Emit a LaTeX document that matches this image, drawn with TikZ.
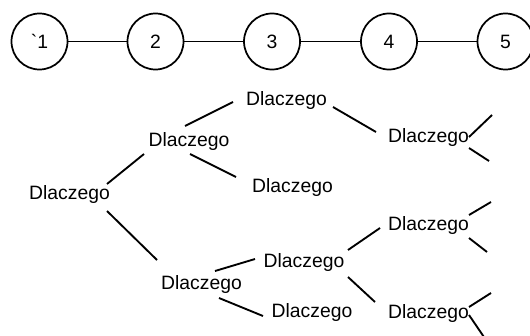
\documentclass[tikz,border=0pt]{standalone}
\usepackage{fontspec}
\setmainfont{Liberation Sans}
\usetikzlibrary{calc}

\begin{document}
\begin{tikzpicture}[x=0.75pt,y=-0.75pt,
    every node/.style={font=\fontsize{14.5}{17}\selectfont},
    krok/.style={draw,circle,line width=1.3pt,minimum size=42pt,inner sep=0pt},
    pyt/.style={inner sep=0pt},
    galaz/.style={line width=1.4pt}]

        \useasboundingbox (0,0) rectangle (530,335);

        % 绘制上方的圆圈
        \node[krok] (k1) at (39.5,41.5) {\textasciigrave 1};
        \foreach \i/\x in {2/155.5,3/272,4/389,5/505.5}
        {
          \node[krok] (k\i) at (\x,41.5) {\i};
        }
        \foreach \a/\b in {1/2,2/3,3/4,4/5}
        {
          \draw[line width=1.3pt] (k\a) -- (k\b);
        }

        % 绘制树的节点
        \node[pyt] (d0) at (69.5,194) {Dlaczego};
        \node[pyt] (d1) at (189,141) {Dlaczego};
        \node[pyt] (d2) at (201.5,284) {Dlaczego};
        \node[pyt] (d11) at (286.5,101) {Dlaczego};
        \node[pyt] (d12) at (292.5,187) {Dlaczego};
        \node[pyt] (d21) at (304,262) {Dlaczego};
        \node[pyt] (d22) at (312,312) {Dlaczego};
        \node[pyt] (d111) at (428.5,137) {Dlaczego};
        \node[pyt] (d211) at (428.5,225) {Dlaczego};
        \node[pyt] (d212) at (428.5,313) {Dlaczego};

        % 绘制树的分支
        \draw[galaz] ($(d0)+(37.5,-10)$) -- ($(d1)+(-45,13)$);
        \draw[galaz] ($(d0)+(37.5,17)$) -- ($(d2)+(-44.5,-24)$);
        \draw[galaz] ($(d1)+(-4,-15)$) -- ($(d11)+(-53.5,1)$);
        \draw[galaz] ($(d1)+(1,13)$) -- ($(d12)+(-56.5,-10)$);
        \draw[galaz] ($(d11)+(46.5,6)$) -- ($(d111)+(-52.5,-5)$);
        \draw[galaz] ($(d2)+(13.5,-13)$) -- ($(d21)+(-49,-3)$);
        \draw[galaz] ($(d2)+(17.5,14)$) -- ($(d22)+(-49,4)$);
        \draw[galaz] ($(d21)+(44,-12)$) -- ($(d211)+(-48.5,3)$);
        \draw[galaz] ($(d21)+(44,15)$) -- ($(d212)+(-53.5,-11)$);

        % 右侧未完成的分支
        \coordinate (w1) at (492,115);
        \coordinate (w2) at (489,161);
        \coordinate (w3) at (491,202);
        \coordinate (w4) at (487,252);
        \coordinate (w5) at (491,293);
        \coordinate (w6) at (486,340);
        \draw[galaz] ($(d111)+(40.5,0)$) -- (w1);
        \draw[galaz] ($(d111)+(40.5,11)$) -- (w2);
        \draw[galaz] ($(d211)+(40.5,-10)$) -- (w3);
        \draw[galaz] ($(d211)+(40.5,13)$) -- (w4);
        \draw[galaz] ($(d212)+(40.5,-6)$) -- (w5);
        \draw[galaz] ($(d212)+(40.5,2)$) -- (w6);

\end{tikzpicture}
\end{document}
